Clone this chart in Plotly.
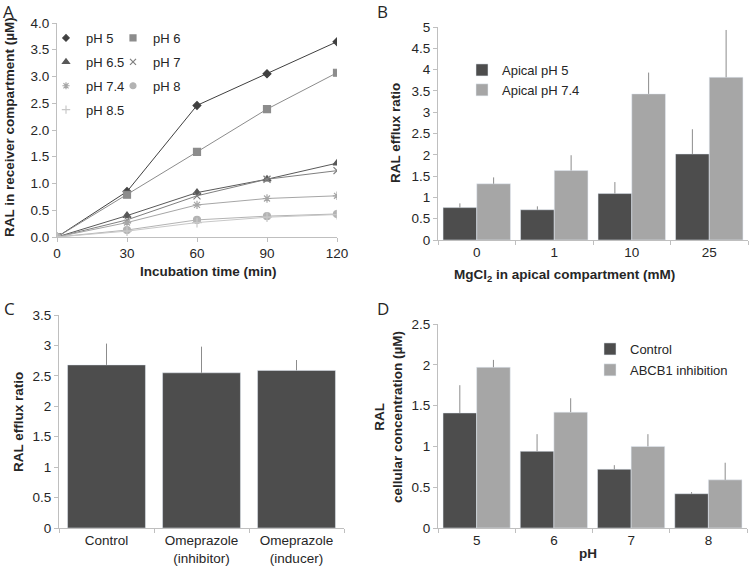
import plotly.graph_objects as go

W, H = 750, 569

# ---------------- Data ----------------
# Panel A
time_min = [0, 30, 60, 90, 120]
ph_labels = ["pH 5", "pH 6", "pH 6.5", "pH 7", "pH 7.4", "pH 8", "pH 8.5"]
ph5 = [0, 0.85, 2.46, 3.05, 3.65]
ph6 = [0, 0.79, 1.59, 2.39, 3.07]
ph65 = [0, 0.40, 0.83, 1.08, 1.38]
ph7 = [0, 0.32, 0.77, 1.08, 1.24]
ph74 = [0, 0.27, 0.60, 0.72, 0.77]
ph8 = [0, 0.13, 0.32, 0.39, 0.43]
ph85 = [0, 0.11, 0.27, 0.37, 0.42]

# Panel B
mgcl2_cats = ["0", "1", "10", "25"]
b_ph5 = [0.76, 0.71, 1.09, 2.02]
b_ph5_err = [0.10, 0.08, 0.27, 0.58]
b_ph74 = [1.32, 1.63, 3.43, 3.82]
b_ph74_err = [0.15, 0.36, 0.50, 1.11]

# Panel C
c_cats = ["Control", "Omeprazole<br>(inhibitor)", "Omeprazole<br>(inducer)"]
c_vals = [2.68, 2.55, 2.59]
c_err = [0.35, 0.43, 0.17]

# Panel D
ph_cats = ["5", "6", "7", "8"]
d_control = [1.41, 0.94, 0.72, 0.42]
d_control_err = [0.34, 0.21, 0.05, 0.02]
d_abcb1 = [1.97, 1.42, 1.00, 0.59]
d_abcb1_err = [0.09, 0.17, 0.15, 0.21]

# ---------------- Styling helpers ----------------
FONT = "Liberation Sans, Arial, sans-serif"
TXT = "#262626"
AXC = "#bfbfbf"
DARK = "#4d4d4d"
LIGHT = "#a6a6a6"
ERRC = "#8c8c8c"


def px_x(p):
    return p / W


def px_y(p):
    return 1 - p / H


fig = go.Figure()

# ---------------- Panel A ----------------
a_series = [ph5, ph6, ph65, ph7, ph74, ph8, ph85]
a_colors = ["#404040", "#8c8c8c", "#595959", "#7f7f7f", "#a6a6a6", "#b3b3b3", "#c8c8c8"]
a_symbols = ["diamond", "square", "triangle-up", "x-thin-open", "asterisk-open", "circle", "cross-thin-open"]
a_sizes = [6, 7, 7, 7, 7, 7, 7]
a_legend = ["legend", "legend2", "legend", "legend2", "legend", "legend2", "legend"]

for name, ys, col, sym, sz in zip(ph_labels, a_series, a_colors, a_symbols, a_sizes):
    fig.add_trace(go.Scatter(
        x=time_min, y=ys, mode="lines+markers", name=name, showlegend=False,
        line=dict(color=col, width=1),
        marker=dict(symbol=sym, size=sz, color=col, line=dict(color=col, width=1.2)),
        xaxis="x", yaxis="y"))

# legend-only entries (marker only, as in the original)
for name, col, sym, sz, lg in zip(ph_labels, a_colors, a_symbols, a_sizes, a_legend):
    fig.add_trace(go.Scatter(
        x=[None], y=[None], mode="markers", name=name, legend=lg, legendgroup=name,
        marker=dict(symbol=sym, size=sz - 1, color=col, line=dict(color=col, width=1.2)),
        xaxis="x", yaxis="y"))

# ---------------- Panel B ----------------
fig.add_trace(go.Bar(
    x=mgcl2_cats, y=b_ph5, name="Apical pH 5", marker_color=DARK, legend="legend3",
    legendgroup="b1",
    error_y=dict(type="data", array=b_ph5_err, arrayminus=[0] * 4, symmetric=False,
                 color=ERRC, thickness=1, width=0),
    xaxis="x2", yaxis="y2", offsetgroup="b1"))
fig.add_trace(go.Bar(
    x=mgcl2_cats, y=b_ph74, name="Apical pH 7.4", marker_color=LIGHT, legend="legend3",
    legendgroup="b2",
    error_y=dict(type="data", array=b_ph74_err, arrayminus=[0] * 4, symmetric=False,
                 color=ERRC, thickness=1, width=0),
    xaxis="x2", yaxis="y2", offsetgroup="b2"))

# ---------------- Panel C ----------------
fig.add_trace(go.Bar(
    x=c_cats, y=c_vals, marker_color=DARK, showlegend=False, width=0.82,
    error_y=dict(type="data", array=c_err, arrayminus=[0] * 3, symmetric=False,
                 color=ERRC, thickness=1, width=0),
    xaxis="x3", yaxis="y3"))

# ---------------- Panel D ----------------
fig.add_trace(go.Bar(
    x=ph_cats, y=d_control, name="Control", marker_color=DARK, legend="legend4",
    legendgroup="d1",
    error_y=dict(type="data", array=d_control_err, arrayminus=[0] * 4, symmetric=False,
                 color=ERRC, thickness=1, width=0),
    xaxis="x4", yaxis="y4", offsetgroup="d1"))
fig.add_trace(go.Bar(
    x=ph_cats, y=d_abcb1, name="ABCB1 inhibition", marker_color=LIGHT, legend="legend4",
    legendgroup="d2",
    error_y=dict(type="data", array=d_abcb1_err, arrayminus=[0] * 4, symmetric=False,
                 color=ERRC, thickness=1, width=0),
    xaxis="x4", yaxis="y4", offsetgroup="d2"))

# ---------------- Axes ----------------
common_axis = dict(showline=True, linecolor=AXC, linewidth=1, showgrid=False, zeroline=False,
                   ticks="outside", ticklen=4, tickcolor=AXC, tickwidth=1,
                   tickfont=dict(family=FONT, size=13.5, color=TXT), fixedrange=True)

layout_axes = dict(
    xaxis=dict(domain=[px_x(57), px_x(337)], range=[0, 120], tickvals=time_min,
               anchor="y", **common_axis),
    yaxis=dict(domain=[px_y(237), px_y(23)], range=[0, 4.0], dtick=0.5, tickformat=".1f",
               anchor="x", **common_axis),
    xaxis2=dict(domain=[px_x(438), px_x(748)], type="category", range=[-0.5, 3.5],
                tickson="boundaries", anchor="y2", **common_axis),
    yaxis2=dict(domain=[px_y(240), px_y(27)], range=[0, 5], dtick=0.5, anchor="x2",
                **common_axis),
    xaxis3=dict(domain=[px_x(59), px_x(344)], type="category", range=[-0.5, 2.5],
                tickson="boundaries", anchor="y3", **common_axis),
    yaxis3=dict(domain=[px_y(528), px_y(315)], range=[0, 3.5], dtick=0.5, anchor="x3",
                **common_axis),
    xaxis4=dict(domain=[px_x(438), px_x(747)], type="category", range=[-0.5, 3.5],
                tickson="boundaries", anchor="y4", **common_axis),
    yaxis4=dict(domain=[px_y(528), px_y(324)], range=[0, 2.5], dtick=0.5, anchor="x4",
                **common_axis),
)

legend_common = dict(bgcolor="rgba(0,0,0,0)", borderwidth=0, traceorder="grouped",
                     font=dict(family=FONT, size=13, color=TXT), xanchor="left",
                     yanchor="top", xref="paper", yref="paper")

layout_legends = dict(
    legend=dict(x=px_x(46), y=px_y(23), tracegroupgap=4, **legend_common),
    legend2=dict(x=px_x(113), y=px_y(23), tracegroupgap=4, **legend_common),
    legend3=dict(x=px_x(462), y=px_y(55), tracegroupgap=0, **legend_common),
    legend4=dict(x=px_x(590), y=px_y(334), tracegroupgap=1, **legend_common),
)

# ---------------- Annotations (titles, panel letters) ----------------
ann = []


def add_text(text, x, y, size=13.5, bold=True, angle=0, family=FONT):
    ann.append(dict(text=f"<b>{text}</b>" if bold else text, x=px_x(x), y=px_y(y),
                    xref="paper", yref="paper", showarrow=False, textangle=angle,
                    xanchor="center", yanchor="middle",
                    font=dict(family=family, size=size, color=TXT)))


# axis titles
add_text("RAL in receiver compartment (µM)", 9, 127, angle=-90)
add_text("Incubation time (min)", 208, 271)
add_text("RAL efflux ratio", 395, 133, angle=-90)
add_text("MgCl<sub>2</sub> in apical compartment (mM)", 564, 275)
add_text("RAL efflux ratio", 18, 422, angle=-90)
add_text("RAL<br>cellular concentration (µM)", 388, 417, angle=-90)
add_text("pH", 588, 553)

# panel letters
PF = "Open Sans, Noto Sans, sans-serif"
add_text("A", 8, 12, size=17, bold=False, family=PF)
add_text("B", 382, 12, size=17, bold=False, family=PF)
add_text("C", 9, 308, size=17, bold=False, family=PF)
add_text("D", 383, 308, size=17, bold=False, family=PF)

fig.update_layout(
    width=W, height=H, margin=dict(l=0, r=0, t=0, b=0, pad=0, autoexpand=False),
    paper_bgcolor="white", plot_bgcolor="white",
    barmode="group", bargap=0.13, bargroupgap=0,
    font=dict(family=FONT, size=13, color=TXT),
    annotations=ann,
    **layout_axes, **layout_legends,
)

fig.write_html("out.html", config={"displayModeBar": False},
               post_script="document.body.style.margin='0';")
